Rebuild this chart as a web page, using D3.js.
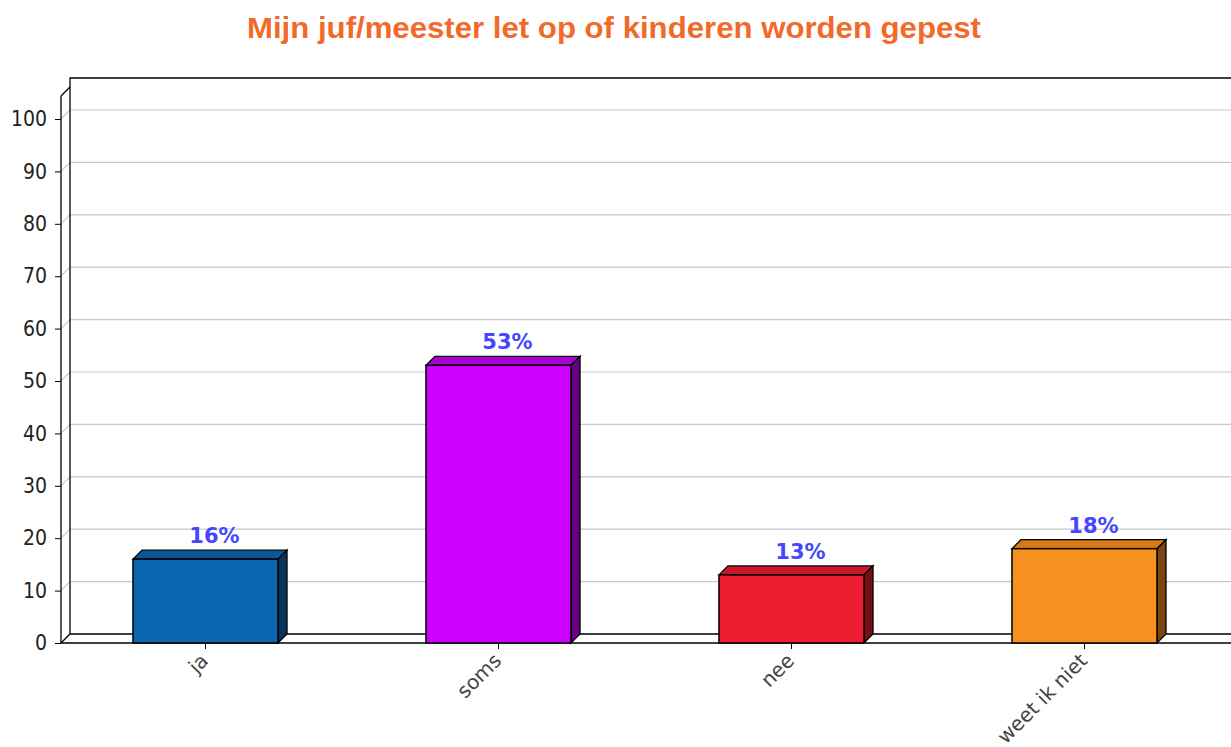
<!DOCTYPE html>
<html>
<head>
<meta charset="utf-8">
<script src="https://cdn.jsdelivr.net/npm/d3@7"></script>
<style>
  body { margin: 0; background: #fff; }
  svg { display: block; }
</style>
</head>
<body>
<svg id="chart" width="1231" height="747"></svg>
<script>
var categories = ['ja', 'soms', 'nee', 'weet ik niet']
var values = [16, 53, 13, 18]
var valueLabels = ['16%', '53%', '13%', '18%']
var yTicks = [0, 10, 20, 30, 40, 50, 60, 70, 80, 90, 100]
var frontColors = ['#0b66b0', '#cc00ff', '#ed1c2e', '#f7901e']
var topColors = ['#0a5799', '#aa00d4', '#c8182a', '#d67a18']
var sideColors = ['#07345b', '#66007f', '#7a0e17', '#7a4510']

const W = 1231, H = 747
const left = 61, bottom = 643
const depth = 9

var svg = d3.select('#chart')

var x = d3.scaleBand().domain(categories).range([59, 1231])
  .paddingInner(0.505).paddingOuter(0.2525)
var y = d3.scaleLinear().domain([0, 100]).range([bottom, 119])

// title
svg.append('text')
  .attr('x', 614).attr('y', 38)
  .attr('text-anchor', 'middle')
  .attr('textLength', 734).attr('lengthAdjust', 'spacingAndGlyphs')
  .style('font-family', 'Liberation Sans, Arial, sans-serif')
  .style('font-weight', 'bold')
  .style('font-size', '29px')
  .style('fill', '#f26a2a')
  .text('Mijn juf/meester let op of kinderen worden gepest')

// grid lines on back wall
var grid = svg.append('g')
yTicks.filter(function(t){ return t > 0 }).forEach(function(t){
  grid.append('path')
    .attr('d', 'M' + left + ',' + y(t) + 'L' + (left + depth) + ',' + (y(t) - depth) + 'H' + W)
    .attr('fill', 'none')
    .attr('stroke', '#c8c8c8')
    .attr('stroke-width', 1.2)
})

// back wall and floor
var frame = svg.append('g').attr('fill', 'none').attr('stroke', '#000').attr('stroke-width', 1.3)
frame.append('path').attr('d', 'M' + (left + depth) + ',' + (bottom - depth) + 'V' + (y(100) - depth - 32) + 'H' + W)
frame.append('path').attr('d', 'M' + left + ',' + bottom + 'L' + (left + depth) + ',' + (bottom - depth) + 'H' + W)
frame.append('path').attr('d', 'M' + left + ',' + (y(100) - 23) + 'L' + (left + depth) + ',' + (y(100) - 32))

// y axis
var yAxis = svg.append('g')
  .attr('transform', 'translate(' + left + ',0)')
  .call(d3.axisLeft(y).tickValues(yTicks).tickSize(6).tickPadding(8))
yAxis.select('.domain').attr('d', 'M0,' + (y(100) - 23) + 'V' + bottom).attr('stroke-width', 1.3)
yAxis.selectAll('text')
  .style('font-family', 'DejaVu Sans Condensed, DejaVu Sans, sans-serif')
  .style('font-size', '21px')
  .style('fill', '#222')

// x axis
var xAxis = svg.append('g')
  .attr('transform', 'translate(0,' + bottom + ')')
  .call(d3.axisBottom(x).tickSize(6).tickPadding(6))
xAxis.select('.domain').attr('d', 'M' + left + ',0H' + W).attr('stroke-width', 1.3)
xAxis.selectAll('text')
  .style('font-family', 'DejaVu Sans, sans-serif')
  .style('font-size', '20px')
  .style('fill', '#444')
  .attr('text-anchor', 'end')
  .attr('dy', null)
  .attr('y', 0).attr('x', 0)
  .attr('transform', 'translate(4,19) rotate(-45)')

// 3d bars
var bars = svg.append('g').selectAll('g').data(categories).enter().append('g')
bars.each(function(c, i){
  var g = d3.select(this)
  var x0 = x(c), x1 = x(c) + x.bandwidth()
  var y0 = y(values[i]), yb = y(0)
  g.append('path')
    .attr('d', 'M' + x0 + ',' + y0 + 'L' + (x0 + depth) + ',' + (y0 - depth) + 'H' + (x1 + depth) + 'L' + x1 + ',' + y0 + 'Z')
    .attr('fill', topColors[i]).attr('stroke', '#000').attr('stroke-width', 1.3)
  g.append('path')
    .attr('d', 'M' + x1 + ',' + y0 + 'L' + (x1 + depth) + ',' + (y0 - depth) + 'V' + (yb - depth) + 'L' + x1 + ',' + yb + 'Z')
    .attr('fill', sideColors[i]).attr('stroke', '#000').attr('stroke-width', 1.3)
  g.append('rect')
    .attr('x', x0).attr('y', y0)
    .attr('width', x.bandwidth()).attr('height', yb - y0)
    .attr('fill', frontColors[i]).attr('stroke', '#000').attr('stroke-width', 1.5)
  g.append('text')
    .attr('x', x0 + x.bandwidth() / 2 + depth)
    .attr('y', y0 - depth - 7)
    .attr('text-anchor', 'middle')
    .style('font-family', 'DejaVu Sans, sans-serif')
    .style('font-weight', 'bold')
    .style('font-size', '21px')
    .style('fill', '#4646ff')
    .text(valueLabels[i])
})
</script>
</body>
</html>
